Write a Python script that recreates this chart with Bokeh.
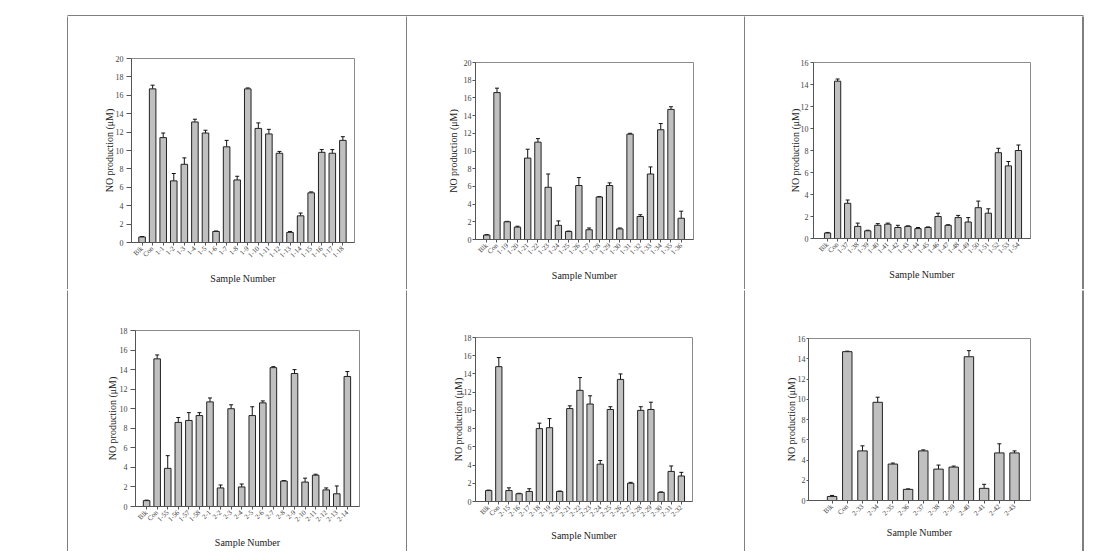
import math
from bokeh.plotting import figure
from bokeh.models import (Range1d, FixedTicker, SingleIntervalTicker, ColumnDataSource,
                          Whisker, TeeHead)
from bokeh.layouts import row, column
from bokeh.embed import file_html
from bokeh.resources import INLINE

# ---------------- data ----------------
labels_1 = ["Blk", "Con", "1-1", "1-2", "1-3", "1-4", "1-5", "1-6", "1-7", "1-8", "1-9",
            "1-10", "1-11", "1-12", "1-13", "1-14", "1-15", "1-16", "1-17", "1-18"]
values_1 = [0.6, 16.7, 11.4, 6.7, 8.5, 13.1, 11.9, 1.2, 10.4, 6.8, 16.7,
            12.4, 11.8, 9.7, 1.1, 2.9, 5.4, 9.8, 9.7, 11.1]
errors_1 = [0.05, 0.4, 0.5, 0.8, 0.7, 0.3, 0.3, 0.05, 0.7, 0.4, 0.1,
            0.6, 0.5, 0.2, 0.1, 0.3, 0.1, 0.3, 0.4, 0.4]

labels_2 = ["Blk", "Con", "1-19", "1-20", "1-21", "1-22", "1-23", "1-24", "1-25", "1-26", "1-27",
            "1-28", "1-29", "1-30", "1-31", "1-32", "1-33", "1-34", "1-35", "1-36"]
values_2 = [0.5, 16.6, 2.0, 1.4, 9.2, 11.0, 5.9, 1.6, 0.9, 6.1, 1.1,
            4.8, 6.1, 1.2, 11.9, 2.6, 7.4, 12.4, 14.7, 2.4]
errors_2 = [0.05, 0.5, 0.05, 0.1, 1.0, 0.4, 1.5, 0.5, 0.05, 0.9, 0.2,
            0.05, 0.3, 0.1, 0.1, 0.2, 0.8, 0.7, 0.3, 0.8]

labels_3 = ["Blk", "Con", "1-37", "1-38", "1-39", "1-40", "1-41", "1-42", "1-43", "1-44", "1-45",
            "1-46", "1-47", "1-48", "1-49", "1-50", "1-51", "1-52", "1-53", "1-54"]
values_3 = [0.5, 14.3, 3.2, 1.1, 0.7, 1.2, 1.3, 1.0, 1.1, 0.9, 1.0,
            2.0, 1.2, 1.9, 1.5, 2.8, 2.3, 7.8, 6.6, 8.0]
errors_3 = [0.05, 0.2, 0.3, 0.3, 0.05, 0.15, 0.1, 0.2, 0.05, 0.1, 0.05,
            0.3, 0.05, 0.2, 0.4, 0.6, 0.4, 0.4, 0.4, 0.5]

labels_4 = ["Blk", "Con", "1-55", "1-56", "1-57", "1-58", "2-1", "2-2", "2-3", "2-4", "2-5",
            "2-6", "2-7", "2-8", "2-9", "2-10", "2-11", "2-12", "2-13", "2-14"]
values_4 = [0.6, 15.1, 3.9, 8.6, 8.8, 9.3, 10.7, 1.9, 10.0, 2.0, 9.3,
            10.6, 14.2, 2.6, 13.6, 2.5, 3.2, 1.7, 1.3, 13.3]
errors_4 = [0.05, 0.4, 1.3, 0.5, 0.8, 0.3, 0.4, 0.3, 0.4, 0.3, 0.9,
            0.2, 0.1, 0.05, 0.4, 0.4, 0.1, 0.2, 0.8, 0.5]

labels_5 = ["Blk", "Con", "2-15", "2-16", "2-17", "2-18", "2-19", "2-20", "2-21", "2-22", "2-23",
            "2-24", "2-25", "2-26", "2-27", "2-28", "2-29", "2-30", "2-31", "2-32"]
values_5 = [1.2, 14.8, 1.2, 0.85, 1.1, 8.0, 8.1, 1.1, 10.2, 12.2, 10.7,
            4.1, 10.1, 13.4, 2.0, 10.0, 10.1, 1.0, 3.3, 2.8]
errors_5 = [0.05, 1.0, 0.3, 0.05, 0.3, 0.6, 1.0, 0.05, 0.3, 1.4, 0.9,
            0.4, 0.3, 0.6, 0.1, 0.4, 0.8, 0.05, 0.6, 0.4]

labels_6 = ["Blk", "Con", "2-33", "2-34", "2-35", "2-36", "2-37", "2-38", "2-39", "2-40",
            "2-41", "2-42", "2-43"]
values_6 = [0.4, 14.7, 4.9, 9.7, 3.6, 1.1, 4.9, 3.1, 3.3, 14.2, 1.2, 4.7, 4.7]
errors_6 = [0.1, 0.05, 0.5, 0.5, 0.1, 0.05, 0.1, 0.4, 0.1, 0.6, 0.4, 0.9, 0.2]

y_title = "NO production (\u03bcM)"
x_title = "Sample Number"
y_max = [20, 20, 16, 18, 18, 16]

# ---------------- layout / style ----------------
FONT = "Liberation Serif"
COL_W = [338, 337, 337]
ROW_H = [273, 261]
# borders (left, right, top, bottom), x padding (left, right),
# x-title standoff, y-title standoff, y tick length, y label standoff
PANEL_STYLE = [
    dict(mb=(63, 52, 42, 47), pad=(1.0, 1.1), xs=8, ys=-2, yt=5, yl=3),
    dict(mb=(68, 51, 46, 50), pad=(1.1, 1.2), xs=8, ys=2, yt=3, yl=1),
    dict(mb=(68, 52, 46, 51), pad=(1.4, 1.2), xs=8, ys=-3, yt=3, yl=2),
    dict(mb=(67, 47, 40, 44), pad=(1.05, 1.15), xs=8, ys=-1, yt=5, yl=3),
    dict(mb=(68, 52, 47, 50), pad=(1.3, 1.1), xs=6, ys=-3, yt=3, yl=1),
    dict(mb=(63, 52, 48, 51), pad=(1.55, 1.05), xs=4, ys=-2, yt=2, yl=1),
]


def block(w, h, ml=0, mr=0, mt=0, mb=0):
    """Blank white figure whose (black) frame forms a table rule."""
    f = figure(width=w, height=h, output_backend="svg", toolbar_location=None,
               x_axis_type=None, y_axis_type=None, frame_align=False,
               min_border_left=ml, min_border_right=mr,
               min_border_top=mt, min_border_bottom=mb)
    f.background_fill_color = "black"
    f.border_fill_color = "white"
    f.outline_line_color = None
    return f


def make_panel(idx, labels, values, errors, ymax, col, rw):
    st = PANEL_STYLE[idx]
    w, h = COL_W[col], ROW_H[rw]
    n = len(labels)
    xs = list(range(1, n + 1))
    src = ColumnDataSource(dict(x=xs, value=values,
                                upper=[v + e for v, e in zip(values, errors)]))
    p = figure(width=w, height=h, output_backend="svg", toolbar_location=None,
               frame_align=False,
               x_range=Range1d(1 - st["pad"][0], n + st["pad"][1]),
               y_range=Range1d(0, ymax),
               min_border_left=st["mb"][0], min_border_right=st["mb"][1],
               min_border_top=st["mb"][2], min_border_bottom=st["mb"][3])
    p.background_fill_color = "white"
    p.border_fill_color = "white"
    p.outline_line_color = "#8a8a8a"
    p.outline_line_width = 1
    p.xgrid.visible = False
    p.ygrid.visible = False

    p.vbar(x="x", top="value", width=0.62, source=src,
           fill_color="#c0c0c0", line_color="#222222", line_width=1)
    p.add_layout(Whisker(source=src, base="x", lower="value", upper="upper",
                         line_color="#111111", line_width=1,
                         upper_head=TeeHead(size=4, line_color="#111111", line_width=1),
                         lower_head=None))

    xa = p.xaxis[0]
    xa.ticker = FixedTicker(ticks=xs)
    xa.major_label_overrides = {x: lab for x, lab in zip(xs, labels)}
    xa.major_label_orientation = math.pi / 4
    xa.major_label_text_font = FONT
    xa.major_label_text_font_size = "7px"
    xa.major_label_text_color = "#444444"
    xa.major_label_standoff = 2
    xa.major_tick_out = 3
    xa.major_tick_in = 0
    xa.minor_tick_out = 0
    xa.axis_line_color = "#555555"
    xa.major_tick_line_color = "#555555"
    xa.axis_label = x_title
    xa.axis_label_text_font = FONT
    xa.axis_label_text_font_size = "10px"
    xa.axis_label_text_font_style = "normal"
    xa.axis_label_text_color = "#222222"
    xa.axis_label_standoff = st["xs"]

    ya = p.yaxis[0]
    ya.ticker = SingleIntervalTicker(interval=2, num_minor_ticks=0)
    ya.major_label_text_font = FONT
    ya.major_label_text_font_size = "8px"
    ya.major_label_text_color = "#444444"
    ya.major_label_standoff = st["yl"]
    ya.major_tick_out = st["yt"]
    ya.major_tick_in = 0
    ya.minor_tick_out = 0
    ya.axis_line_color = "#555555"
    ya.major_tick_line_color = "#555555"
    ya.axis_label = y_title
    ya.axis_label_text_font = FONT
    ya.axis_label_text_font_size = "10px"
    ya.axis_label_text_font_style = "normal"
    ya.axis_label_text_color = "#222222"
    ya.axis_label_standoff = st["ys"]
    return p


data = [(labels_1, values_1, errors_1), (labels_2, values_2, errors_2),
        (labels_3, values_3, errors_3), (labels_4, values_4, errors_4),
        (labels_5, values_5, errors_5), (labels_6, values_6, errors_6)]

panels = []
for i, (lab, val, err) in enumerate(data):
    panels.append(make_panel(i, lab, val, err, y_max[i], i % 3, i // 3))


def table_row(ps, h):
    return row(block(68, h, ml=67), ps[0], block(1, h), ps[1], block(1, h), ps[2],
               block(22, h, mr=21), spacing=0)


layout = column(
    block(1104, 16, ml=67, mr=21, mt=15),
    table_row(panels[:3], ROW_H[0]),
    block(1104, 1, ml=67, mr=21),
    table_row(panels[3:], ROW_H[1]),
    block(1104, 2, ml=67, mr=21, mb=1),
    spacing=0,
)

open("out.html", "w").write(file_html(layout, INLINE))
